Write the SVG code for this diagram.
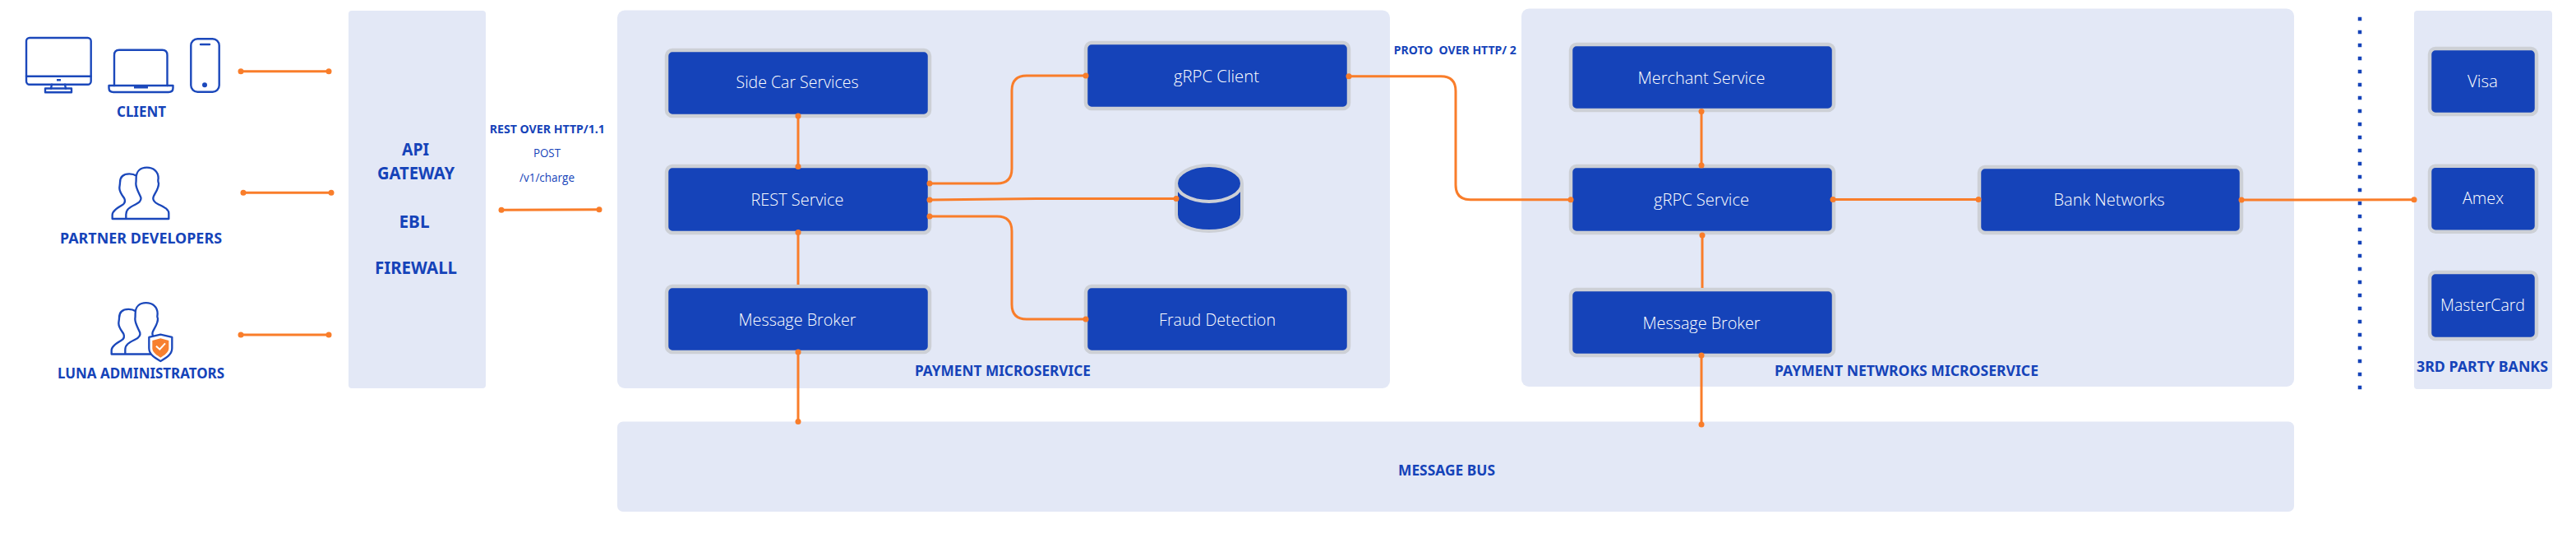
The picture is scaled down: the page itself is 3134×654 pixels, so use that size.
<svg xmlns="http://www.w3.org/2000/svg" xmlns:xlink="http://www.w3.org/1999/xlink" width="3134" height="654" viewBox="0 0 3134 654">
<style>
.panel{fill:#e3e8f6}
.box{fill:#1543b9;stroke:#cdd0d6;stroke-width:4.500}
.lbl{font-family:"Open Sans","Noto Sans",sans-serif;font-weight:300;font-size:20px;fill:#fff;text-anchor:middle}
.hd{font-family:"Noto Sans","Open Sans",sans-serif;font-weight:700;fill:#1543b9;text-anchor:middle}
.thin{font-family:"Open Sans","Noto Sans",sans-serif;font-weight:400;fill:#1543b9;text-anchor:middle;font-size:15px}
.c{fill:none;stroke:#f97d2a;stroke-width:3;marker-start:url(#dot);marker-end:url(#dot)}
.ic{fill:none;stroke:#1b48bb;stroke-width:2.400;stroke-linejoin:round;stroke-linecap:round}
</style>
<defs>
<marker id="dot" markerUnits="userSpaceOnUse" markerWidth="9" markerHeight="9" refX="4.500" refY="4.500"><circle cx="4.500" cy="4.500" r="3.500" fill="#f97d2a"/></marker>
<g id="people">
<path fill="none" stroke="#1b48bb" stroke-width="7" stroke-linejoin="round" d="M160 228H316V208C316 192 296 184 276 174C262 167 256 160 260 148C266 132 280 118 279 98C277 94 276 90 278 80C278 55 260 41 236 41C212 41 197 55 197 80C197 88 197 92 196 100C196 118 208 134 214 150C217 162 210 168 196 175C176 185 160 192 160 212ZM160 228H110V214C110 200 126 190 146 178C156 172 158 164 154 154C146 142 136 130 136 116C136 108 138 104 138 96C138 76 150 64 172 64C182 64 192 67 199 72"/>
</g>
</defs>

<g id="client">
<g class="ic">
<rect x="32" y="46" width="78.700" height="56.700" rx="4"/>
<path d="M32 92.700H110.700M63 102.700L62 107.500M79 102.700L80 107.500"/>
<rect x="55" y="107.500" width="32" height="4.800"/>
<path d="M139 104V67Q139 60.700 145 60.700H197.500Q203.500 60.700 203.500 67V104"/>
<path d="M132.500 104H210.500V107Q210.500 112 205 112H138Q132.500 112 132.500 107Z"/>
<rect x="232.300" y="47.300" width="34.400" height="64.400" rx="8"/>
<path d="M244 54H255"/>
</g>
<rect x="69" y="96" width="5" height="2.500" fill="#1b48bb"/>
<rect x="163" y="104" width="17" height="3.500" fill="#1b48bb"/>
<circle cx="249" cy="103.300" r="3" fill="#1b48bb"/>
<text class="hd" x="172" y="142" font-size="17" textLength="60" lengthAdjust="spacingAndGlyphs">CLIENT</text>
</g>

<g id="partner-developers">
<use xlink:href="#people" transform="translate(100 190) scale(.3333)"/>
<text class="hd" x="171.500" y="296" font-size="17" textLength="197" lengthAdjust="spacingAndGlyphs">PARTNER DEVELOPERS</text>
</g>

<g id="luna-administrators">
<use xlink:href="#people" transform="translate(99 354.500) scale(.3333)"/>
<g transform="translate(100 190) scale(.3333)">
<path fill="#fff" stroke="#1b48bb" stroke-width="7" stroke-linejoin="round" d="M286 650L328 660V700C328 725 302 738 286 747C270 738 244 725 244 700V660Z"/>
<path fill="#f7802f" d="M286 664L316 672V700C316 716 298 727 286 734C274 727 256 716 256 700V672Z"/>
<path fill="none" stroke="#fff" stroke-width="6" d="M270 692L283 704L303 682"/>
</g>
<text class="hd" x="171.500" y="460" font-size="17" textLength="203" lengthAdjust="spacingAndGlyphs">LUNA ADMINISTRATORS</text>
</g>

<g id="api-gateway">
<rect class="panel" x="424" y="13" width="167" height="459" rx="4"/>
<text class="hd" x="505.500" y="188.500" font-size="21" textLength="33" lengthAdjust="spacingAndGlyphs">API</text>
<text class="hd" x="506" y="218" font-size="21" textLength="94" lengthAdjust="spacingAndGlyphs">GATEWAY</text>
<text class="hd" x="504" y="276.500" font-size="21" textLength="37" lengthAdjust="spacingAndGlyphs">EBL</text>
<text class="hd" x="506" y="332.500" font-size="21" textLength="100" lengthAdjust="spacingAndGlyphs">FIREWALL</text>
</g>

<g id="rest-label">
<text class="hd" x="665.800" y="162" font-size="15" textLength="140" lengthAdjust="spacingAndGlyphs">REST OVER HTTP/1.1</text>
<text class="thin" x="665.500" y="190.700" textLength="33" lengthAdjust="spacingAndGlyphs">POST</text>
<text class="thin" x="665.500" y="220.700" textLength="67" lengthAdjust="spacingAndGlyphs">/v1/charge</text>
</g>

<g id="payment-microservice">
<rect class="panel" x="751" y="12.500" width="940" height="459.500" rx="9"/>
<text class="hd" x="1220" y="457" font-size="17" textLength="214" lengthAdjust="spacingAndGlyphs">PAYMENT MICROSERVICE</text>
</g>
<g id="payment-networks-microservice">
<rect class="panel" x="1851" y="10.500" width="940" height="459.500" rx="9"/>
<text class="hd" x="2319.500" y="457" font-size="17" textLength="321" lengthAdjust="spacingAndGlyphs">PAYMENT NETWROKS MICROSERVICE</text>
</g>
<g id="third-party-banks">
<rect class="panel" x="2937" y="13" width="168" height="460" rx="4"/>
<text class="hd" x="3020" y="452" font-size="17" textLength="160" lengthAdjust="spacingAndGlyphs">3RD PARTY BANKS</text>
</g>
<g id="message-bus">
<rect class="panel" x="751" y="512.500" width="2040" height="109.500" rx="7"/>
<text class="hd" x="1760" y="577.500" font-size="17" textLength="118" lengthAdjust="spacingAndGlyphs">MESSAGE BUS</text>
</g>
<text class="hd" id="proto-label" x="1770.300" y="66" font-size="15" textLength="149" lengthAdjust="spacingAndGlyphs" xml:space="preserve">PROTO  OVER HTTP/ 2</text>

<path id="divider" d="M2871 20.700V475" fill="none" stroke="#1543b9" stroke-width="4.500" stroke-dasharray="4.500 11.500"/>

<g id="side-car"><rect class="box" x="811" y="61" width="320" height="80" rx="7"/><text class="lbl" x="970" y="107" textLength="149" lengthAdjust="spacingAndGlyphs">Side Car Services</text></g>
<g id="rest-service"><rect class="box" x="811" y="202" width="320" height="81" rx="7"/><text class="lbl" x="970" y="250" textLength="113" lengthAdjust="spacingAndGlyphs">REST Service</text></g>
<g id="message-broker-1"><rect class="box" x="811" y="348" width="320" height="80" rx="7"/><text class="lbl" x="970" y="396" textLength="143" lengthAdjust="spacingAndGlyphs">Message Broker</text></g>
<g id="grpc-client"><rect class="box" x="1321" y="52" width="320" height="80" rx="7"/><text class="lbl" x="1480" y="100" textLength="104" lengthAdjust="spacingAndGlyphs">gRPC Client</text></g>
<g id="fraud-detection"><rect class="box" x="1321" y="348" width="320" height="80" rx="7"/><text class="lbl" x="1481" y="396" textLength="142" lengthAdjust="spacingAndGlyphs">Fraud Detection</text></g>
<g id="database">
<path fill="#1543b9" stroke="#cdd0d6" stroke-width="4" d="M1431 223V261C1431 273 1449 281 1471 281C1493 281 1511 273 1511 261V223"/>
<ellipse cx="1471" cy="223" rx="40" ry="22" fill="#1543b9" stroke="#cdd0d6" stroke-width="4"/>
</g>
<g id="merchant-service"><rect class="box" x="1911" y="54" width="320" height="80" rx="7"/><text class="lbl" x="2070" y="102" textLength="155" lengthAdjust="spacingAndGlyphs">Merchant Service</text></g>
<g id="grpc-service"><rect class="box" x="1911" y="202" width="320" height="81" rx="7"/><text class="lbl" x="2070" y="250" textLength="116" lengthAdjust="spacingAndGlyphs">gRPC Service</text></g>
<g id="message-broker-2"><rect class="box" x="1911" y="352" width="320" height="80" rx="7"/><text class="lbl" x="2070" y="400" textLength="143" lengthAdjust="spacingAndGlyphs">Message Broker</text></g>
<g id="bank-networks"><rect class="box" x="2408" y="203" width="319" height="80" rx="7"/><text class="lbl" x="2566" y="250" textLength="135" lengthAdjust="spacingAndGlyphs">Bank Networks</text></g>
<g id="visa"><rect class="box" x="2956" y="59" width="130" height="80" rx="7"/><text class="lbl" x="3020.500" y="106" textLength="37" lengthAdjust="spacingAndGlyphs">Visa</text></g>
<g id="amex"><rect class="box" x="2956" y="201.700" width="130" height="80" rx="7"/><text class="lbl" x="3021" y="248.300" textLength="50" lengthAdjust="spacingAndGlyphs">Amex</text></g>
<g id="mastercard"><rect class="box" x="2956" y="331" width="130" height="81" rx="7"/><text class="lbl" x="3020.500" y="378" textLength="103" lengthAdjust="spacingAndGlyphs">MasterCard</text></g>

<g id="connectors">
<path class="c" d="M293 86.700H400"/>
<path class="c" d="M296 234.300H403"/>
<path class="c" d="M293 407H400"/>
<path class="c" d="M610 255.300L729 254.700"/>
<path class="c" d="M971 141V202.500"/>
<path class="c" d="M971 282.500V346" style="marker-end:none"/>
<path class="c" d="M971 428V512.500"/>
<path class="c" d="M1131 223H1213Q1231 223 1231 205V110Q1231 92 1249 92H1321"/>
<path class="c" d="M1131 243L1260 241.500H1431"/>
<path class="c" d="M1131 263H1213Q1231 263 1231 281V370Q1231 388 1249 388H1321"/>
<path class="c" d="M1641 92.700H1753Q1771 92.700 1771 110.700V224.700Q1771 242.700 1789 242.700H1911"/>
<path class="c" d="M2070 135.500V201"/>
<path class="c" d="M2071 286V350" style="marker-end:none"/>
<path class="c" d="M2070 432V516"/>
<path class="c" d="M2230 242.500H2407"/>
<path class="c" d="M2727 243L2937 242.700"/>
</g>
</svg>
